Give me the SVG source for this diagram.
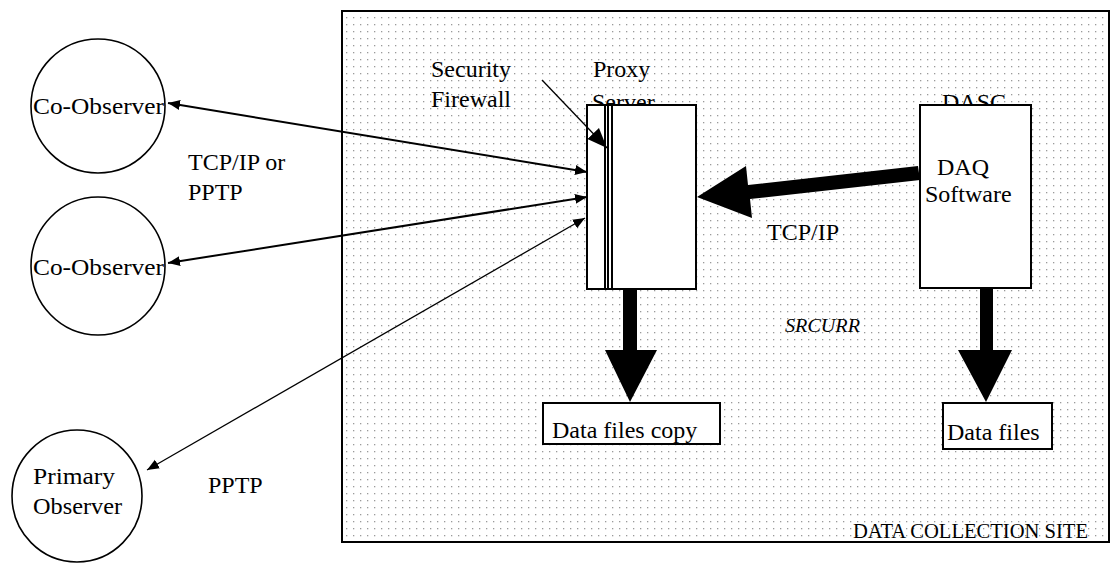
<svg xmlns="http://www.w3.org/2000/svg" width="1111" height="563" viewBox="0 0 1111 563" font-family="Liberation Serif, serif">
<style>
text { font-size: 24px; fill: #000; }
text.site { font-size: 20px; }
text.src { font-size: 18px; font-style: italic; }
.box { fill: #fff; stroke: #000; stroke-width: 2; }
.circ { fill: #fff; stroke: #000; stroke-width: 1.6; }
.thin { stroke: #000; stroke-width: 2; fill: none; }
.hair { stroke: #000; stroke-width: 1.3; fill: none; }
.solid { fill: #000; stroke: none; }
</style>
<defs>
<pattern id="dots" x="0" y="0" width="7" height="7" patternUnits="userSpaceOnUse">
<rect x="3" y="3" width="1.3" height="1.3" fill="#9a9a9a"/>
</pattern>
<marker id="ah" markerUnits="userSpaceOnUse" markerWidth="14" markerHeight="12" refX="12" refY="5" orient="auto-start-reverse" viewBox="0 0 14 10">
<path d="M0,0 L12,5 L0,10 Z" fill="#000"/>
</marker>
<marker id="ahBig" markerUnits="userSpaceOnUse" markerWidth="22" markerHeight="18" refX="20" refY="8" orient="auto" viewBox="0 0 22 16">
<path d="M0,0 L20,8 L0,16 Z" fill="#000"/>
</marker>
</defs>
<rect width="1111" height="563" fill="#fff"/>

<g id="site">
<rect x="342" y="11" width="767" height="531" fill="url(#dots)" stroke="#000" stroke-width="2"/>
<text class="site" x="853" y="538" textLength="235" lengthAdjust="spacingAndGlyphs">DATA COLLECTION SITE</text>
<text class="src" x="785" y="332" textLength="75" lengthAdjust="spacingAndGlyphs">SRCURR</text>
</g>

<g id="co-observer-1">
<circle class="circ" cx="98" cy="106" r="67"/>
<text x="33" y="114" textLength="131" lengthAdjust="spacingAndGlyphs">Co-Observer</text>
</g>

<g id="co-observer-2">
<ellipse class="circ" cx="98" cy="266" rx="67" ry="69"/>
<text x="33" y="275" textLength="131" lengthAdjust="spacingAndGlyphs">Co-Observer</text>
</g>

<g id="primary-observer">
<ellipse class="circ" cx="77" cy="496" rx="65" ry="66"/>
<text x="33" y="484" textLength="82" lengthAdjust="spacingAndGlyphs">Primary</text>
<text x="33" y="514" textLength="89" lengthAdjust="spacingAndGlyphs">Observer</text>
</g>

<g id="labels">
<text x="188" y="170">TCP/IP or</text>
<text x="188" y="200">PPTP</text>
<text x="208" y="493">PPTP</text>
<text x="767" y="240">TCP/IP</text>
</g>

<g id="security-firewall-label">
<text x="431" y="77">Security</text>
<text x="431" y="107">Firewall</text>
</g>

<g id="proxy-server">
<text x="593" y="77">Proxy</text>
<text x="592" y="110">Server</text>
<rect class="box" x="587" y="105" width="109" height="184"/>
<line class="thin" x1="605" y1="105" x2="605" y2="289"/>
<line class="thin" x1="608" y1="105" x2="608" y2="289"/>
<line class="thin" x1="612" y1="105" x2="612" y2="289"/>
</g>

<g id="dasc">
<text x="942" y="110">DASC</text>
<rect class="box" x="920" y="105" width="111" height="183"/>
<text x="937" y="175">DAQ</text>
<text x="925" y="202">Software</text>
</g>

<g id="data-files-copy">
<rect class="box" x="543" y="403" width="177" height="41"/>
<text x="552" y="438">Data files copy</text>
</g>

<g id="data-files">
<rect class="box" x="943" y="403" width="109" height="46"/>
<text x="947" y="440">Data files</text>
</g>

<g id="connectors">
<line class="thin" x1="168" y1="103" x2="587" y2="172" marker-start="url(#ah)" marker-end="url(#ah)"/>
<line class="thin" x1="168" y1="263" x2="587" y2="197" marker-start="url(#ah)" marker-end="url(#ah)"/>
<line class="hair" x1="147" y1="470" x2="585" y2="218" marker-start="url(#ah)" marker-end="url(#ah)"/>
<line class="hair" x1="542" y1="80" x2="607" y2="148" marker-end="url(#ahBig)"/>
<polygon class="solid" points="918,166 748,185 746,166 697,197 752,218 750,199 920,180"/>
<polygon class="solid" points="623,289 637,289 637,350 657,350 630,402 605,350 623,350"/>
<polygon class="solid" points="980,288 993,288 993,350 1012,350 986,402 958,350 980,350"/>
</g>
</svg>
